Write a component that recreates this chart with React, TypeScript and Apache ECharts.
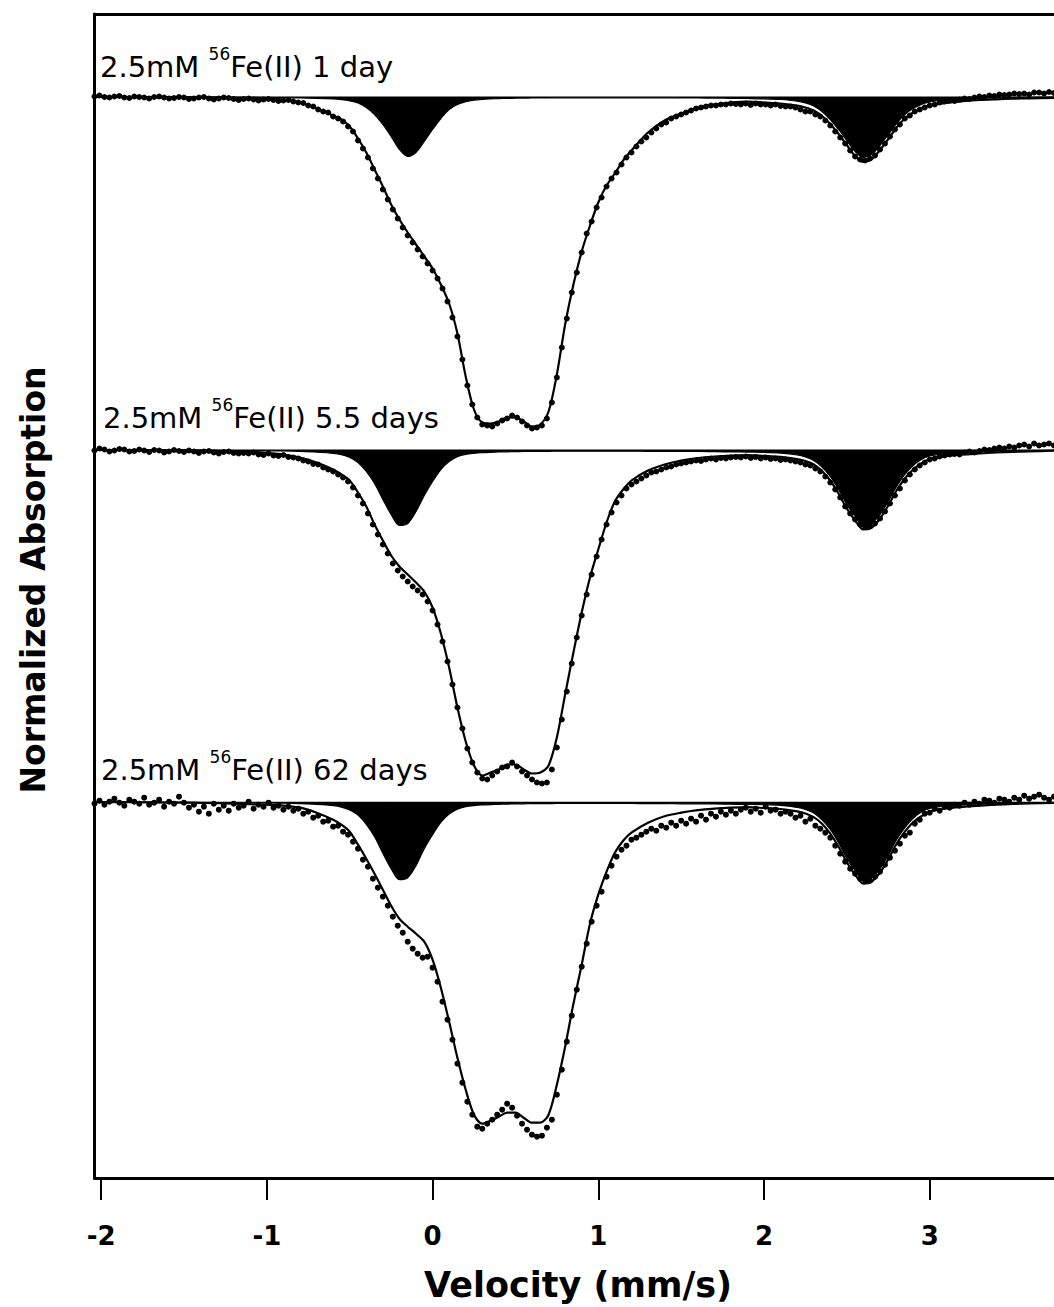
import React, { useEffect, useRef } from "react";
import * as echarts from "echarts";

// x axis ticks (mm/s)
const velocityTicks = [-2, -1, 0, 1, 2, 3];
const panelTimes = ["1 day", "5.5 days", "62 days"];
// vertical offset of each spectrum (absorption units, 1 unit ~ 1px)
const panelOffsets = [0, 353, 705.2];

// velocities at which the fitted curves were read
const fitVelocity = [
  -2.05, -1.9, -1.7, -1.5, -1.3, -1.1, -1.0, -0.9, -0.8, -0.7,
  -0.6, -0.55, -0.5, -0.45, -0.4, -0.35, -0.3, -0.25, -0.2, -0.15,
  -0.1, -0.05, 0, 0.05, 0.1, 0.15, 0.2, 0.25, 0.3, 0.35,
  0.4, 0.45, 0.5, 0.55, 0.6, 0.65, 0.7, 0.75, 0.8, 0.85,
  0.9, 0.95, 1.0, 1.05, 1.1, 1.15, 1.2, 1.3, 1.4, 1.5,
  1.6, 1.7, 1.8, 1.9, 2.0, 2.1, 2.2, 2.25, 2.3, 2.35,
  2.4, 2.45, 2.5, 2.55, 2.6, 2.65, 2.7, 2.75, 2.8, 2.85,
  2.9, 2.95, 3.0, 3.1, 3.2, 3.3, 3.4, 3.5, 3.6, 3.75,
];

// total fit, 1 day
const fitTotal1 = [
  0.5, 0.5, 0.7, 0.8, 1.1, 1.6, 2, 3, 6, 12,
  19, 23, 30, 42, 56, 73, 90, 108, 123, 136,
  148, 160, 172, 188, 207, 237, 280, 313, 326, 327,
  325, 321, 321, 325, 330, 328, 315, 278, 228, 188,
  155, 129, 106, 89, 77, 64, 54, 36, 24, 17,
  11, 8, 6, 5, 6, 7, 9, 11, 14, 19.5,
  27.5, 37.5, 48.5, 59.5, 65.5, 62.5, 53.5, 42.5, 31, 22,
  16, 11.5, 9, 6.3, 4.7, 3.5, 2.8, 2.2, 1.8, 1.3,
];
// Fe(II) component, 1 day
const fitComp1 = [
  0.4, 0.4, 0.4, 0.5, 0.6, 0.9, 1.0, 1.2, 1.4, 1.8,
  2.5, 3.2, 4.3, 6.5, 11, 18, 28, 40, 53, 60,
  56, 45, 33, 22, 13, 8, 5.2, 3.6, 2.8, 2.4,
  2.1, 1.9, 1.7, 1.6, 1.5, 1.45, 1.4, 1.35, 1.3, 1.3,
  1.3, 1.3, 1.3, 1.3, 1.3, 1.3, 1.3, 1.3, 1.3, 1.4,
  1.5, 1.6, 1.8, 2.0, 2.3, 3.0, 4.6, 6.5, 9.5, 15,
  23, 33, 44, 55, 61, 58, 49, 38, 27, 18,
  12, 8, 5.5, 3, 2.2, 1.7, 1.3, 1.0, 0.8, 0.6,
];

// total fit, 5.5 days
const fitTotal2 = [
  0.5, 0.5, 0.7, 1, 1.5, 2.5, 3.5, 5, 8, 13,
  20, 25, 31, 43, 57, 75, 91, 106, 117, 125,
  133, 142, 158, 184, 218, 258, 292, 316, 326, 323,
  320, 315, 315, 320, 324, 323, 316, 288, 245, 203,
  163, 128, 100, 73, 52, 40, 31, 21, 15, 11,
  8.5, 7, 6, 5.5, 6.3, 7.3, 9.5, 11.5, 15, 21.5,
  31, 44, 59, 71, 80, 78, 69, 56, 41, 29,
  20, 14, 9.5, 6.5, 5, 4, 3, 2.3, 1.8, 1.2,
];
const fitComp2 = [
  0.5, 0.5, 0.6, 0.7, 0.9, 1.1, 1.3, 1.5, 1.9, 2.6,
  3.8, 5.2, 8, 13, 22, 34, 50, 65, 76, 74,
  62, 46, 32, 20, 12, 7.2, 4.8, 3.8, 3.2, 2.8,
  2.5, 2.3, 2.1, 2.0, 1.9, 1.8, 1.8, 1.7, 1.7, 1.7,
  1.7, 1.7, 1.7, 1.7, 1.7, 1.7, 1.7, 1.8, 1.9, 2.0,
  2.0, 2.2, 2.4, 2.6, 2.8, 3.6, 5.5, 7.5, 11, 17.5,
  27, 40, 55, 67, 76, 74, 65, 52, 37, 25,
  16, 10, 6.5, 3.8, 2.6, 2.0, 1.7, 1.4, 1.2, 1.0,
];

// total fit, 62 days
const fitTotal3 = [
  0.5, 0.5, 0.7, 1, 1.5, 2.5, 3, 4, 6, 11,
  18, 23, 30, 43, 57, 72, 88, 104, 117, 125,
  132, 140, 158, 186, 220, 256, 288, 313, 322, 319,
  315, 311, 311, 316, 321, 321, 313, 283, 245, 202,
  163, 122, 93, 70, 51, 39, 31, 21, 14.5, 11,
  8.5, 7, 6, 5.5, 6.3, 7.3, 9.7, 11.8, 15.4, 22,
  32, 45, 60.5, 73, 82, 80, 71, 57.5, 42, 30,
  20.5, 14.5, 9.8, 6.6, 5.1, 4, 3, 2.3, 1.8, 1.2,
];
const fitComp3 = [
  0.5, 0.5, 0.6, 0.7, 0.9, 1.1, 1.3, 1.5, 2.0, 2.7,
  3.9, 5.4, 8.2, 13.4, 22.7, 35, 51.5, 67, 78, 76,
  64, 47, 33, 20.6, 12.4, 7.4, 5, 3.9, 3.3, 2.9,
  2.6, 2.4, 2.2, 2.1, 2.0, 1.9, 1.9, 1.8, 1.8, 1.8,
  1.8, 1.8, 1.8, 1.8, 1.8, 1.8, 1.8, 1.9, 2.0, 2.1,
  2.1, 2.3, 2.5, 2.7, 2.9, 3.7, 5.7, 7.7, 11.3, 18,
  27.8, 41, 56.7, 69, 78, 76, 67, 53.6, 38, 26,
  16.5, 10.3, 6.7, 3.9, 2.7, 2.1, 1.8, 1.4, 1.2, 1.0,
];

// measured spectra: channel velocity = start + i * step
const dataStartVelocity = -2.04;
const dataStepVelocity = 0.03;

const data1 = [
  0, -1, 0.5, 1, 0, -0.5, 1, 1.5, 0, 0.5,
  1, 2, 0.5, 0, 1, 2, 1.5, 0.5, 1, 2.5,
  2, 1, 0.5, 2, 3, 2, 1, 1.5, 2.5, 3.5,
  2.5, 2, 3, 4, 3, 2.5, 3.5, 4.5, 4, 3.5,
  5, 6, 6.5, 9, 10, 13, 15, 16, 20, 22,
  25, 30, 35, 44, 52, 61, 72, 82, 93, 103,
  113, 122, 131, 139, 146, 153, 160, 167, 174, 182,
  192, 205, 221, 240, 263, 289, 308, 321, 328, 329,
  330, 327, 324, 322, 319, 321, 325, 329, 332, 331,
  329, 322, 306, 281, 251, 222, 196, 176, 156, 137,
  125, 111, 101, 90, 82, 76, 68, 61, 56, 50,
  45, 41, 36, 32, 28, 26, 22, 20, 18, 16,
  14, 12, 11, 10, 9, 9, 8, 8, 7, 7.5,
  8, 7, 8.5, 7, 8, 8, 9, 8, 9.5, 10,
  10, 11, 13, 15, 15, 18, 20, 24, 29, 35,
  41, 47, 54, 60, 63, 64, 62, 59, 53, 47,
  40, 33, 28, 22, 19, 15, 13, 11, 9, 8,
  6, 5, 4, 4.5, 3, 2, 2.5, 1, 0, 0.5,
  -1, -0.5, -2, -1.5, -2, -3, -2.5, -3, -2, -4,
  -4, -3, -4.5, -3.5,
];

const data2 = [
  1, -1, 0, 2, 1, -0.5, 0, 2, 1.5, 0,
  1, 2.5, 0.5, 1, 3, 2, 0.5, 1.5, 2.5, 1,
  2, 3.5, 2, 1.5, 3, 4, 2.5, 2, 3.5, 4,
  3.5, 4, 3, 5, 5.5, 4, 6, 6.5, 5.5, 7.5,
  8, 9, 11, 12, 14.5, 15, 18, 20, 22, 25,
  28, 32, 38, 46, 54, 64, 75, 85, 95, 104,
  114, 121, 127, 132, 137, 141, 145, 152, 161, 175,
  192, 212, 235, 258, 279, 299, 313, 323, 329, 330,
  326, 322, 318, 317, 313, 317, 322, 326, 330, 333,
  334, 333, 320, 298, 270, 242, 214, 188, 166, 145,
  125, 107, 90, 75, 63, 53, 46, 39, 35, 32,
  29, 26, 23, 22, 20, 18, 17, 15, 14, 13,
  12, 11, 11.5, 10, 9, 10, 8.5, 9, 8, 7.5,
  8, 7, 8.5, 7.5, 9, 8, 9.5, 9, 10.5, 10,
  11, 12, 13, 15, 16, 19, 22, 27, 33, 40,
  48, 57, 64, 70, 75, 77, 77, 74, 69, 62,
  54, 46, 39, 31, 25, 20, 16, 13, 10, 9,
  7, 6, 5, 4.5, 5, 3, 2, 3, 1.5, 0,
  0.5, -1, -2, -1, -3, -2, -4, -5, -3, -6,
  -4, -5, -6, -4,
];

const data3 = [
  2, -1, 3, 0, -3, 1, 4, -2, 0, 2,
  -4, 3, 1, -2, 5, 0, 2, -5, 1, 6,
  3, 10, 5, 12, 2, 8, 4, 9, 2, 6,
  4, 0, 7, 3, 5, 1, 6, 4, 8, 5,
  9, 7, 12, 10, 16, 14, 20, 19, 25, 24,
  30, 33, 40, 47, 58, 65, 77, 86, 95, 104,
  115, 124, 131, 140, 147, 152, 156, 155, 166, 180,
  200, 218, 238, 262, 281, 300, 313, 325, 327, 322,
  318, 313, 308, 302, 306, 314, 322, 328, 333, 335,
  334, 326, 318, 293, 268, 240, 214, 188, 165, 142,
  120, 104, 90, 75, 64, 55, 48, 44, 38, 36,
  33, 30, 27, 29, 24, 26, 21, 24, 19, 22,
  17, 20, 14, 18, 12, 15, 10, 13, 9, 12,
  8, 6, 10, 7, 11, 5, 9, 8, 12, 10,
  12, 16, 14, 20, 17, 24, 27, 31, 36, 44,
  52, 60, 67, 72, 77, 79, 79, 75, 70, 63,
  56, 49, 42, 34, 31, 22, 18, 12, 11, 7,
  9, 5, 6, 3, 4, 1, 3, 0, 2, -2,
  -1, 1, -3, -2, 0, -4, -2, -6, -3, -5,
  -7, -4, -2, -5,
];

const FONT = "'DejaVu Sans', Verdana, sans-serif";

export default function App() {
  const ref = useRef<HTMLDivElement>(null);

  useEffect(() => {
    if (!ref.current) return;
    const chart = echarts.init(ref.current, null, { renderer: "svg" });

    const panels = [
      { total: fitTotal1, comp: fitComp1, data: data1 },
      { total: fitTotal2, comp: fitComp2, data: data2 },
      { total: fitTotal3, comp: fitComp3, data: data3 },
    ];

    const series: any[] = [];
    panels.forEach((p, k) => {
      const off = panelOffsets[k];
      series.push({
        type: "line",
        name: "component" + k,
        data: fitVelocity.map((v, i) => [v, off + p.comp[i]]),
        smooth: 0.3,
        symbol: "none",
        silent: true,
        lineStyle: { color: "#000", width: 1.2 },
        areaStyle: { color: "#000", opacity: 1, origin: off },
        z: 2,
      });
      series.push({
        type: "line",
        name: "fit" + k,
        data: fitVelocity.map((v, i) => [v, off + p.total[i]]),
        smooth: 0.3,
        symbol: "none",
        silent: true,
        lineStyle: { color: "#000", width: 2.2 },
        z: 3,
      });
      series.push({
        type: "scatter",
        name: "data" + k,
        data: p.data.map((d, i) => [dataStartVelocity + i * dataStepVelocity, off + d]),
        symbol: "circle",
        symbolSize: 6,
        silent: true,
        itemStyle: { color: "#000", opacity: 1 },
        z: 4,
      });
    });

    const labelBaselines = [76, 427.7, 779.5];
    const labelLefts = [100, 103, 101];
    const graphics: any[] = panelTimes.map((t, k) => ({
      type: "text",
      x: labelLefts[k],
      y: labelBaselines[k] - 31,
      silent: true,
      style: {
        text: "{a|2.5mM }{s|56}{a|Fe(II) " + t + "}",
        align: "left",
        textAlign: "left",
        verticalAlign: "top",
        textVerticalAlign: "top",
        fill: "#000",
        rich: {
          a: { fontFamily: FONT, fontSize: 29, lineHeight: 36, verticalAlign: "bottom", fill: "#000" },
          s: { fontFamily: FONT, fontSize: 17, verticalAlign: "top", fill: "#000" },
        },
      },
    }));
    graphics.push({
      type: "text",
      x: 578,
      y: 1285,
      silent: true,
      style: {
        text: "Velocity (mm/s)",
        font: "bold 35px " + FONT,
        align: "center",
        textAlign: "center",
        verticalAlign: "middle",
        textVerticalAlign: "middle",
        fill: "#000",
      },
    });
    graphics.push({
      type: "text",
      x: 33,
      y: 580,
      rotation: Math.PI / 2,
      silent: true,
      style: {
        text: "Normalized Absorption",
        font: "bold 33px " + FONT,
        align: "center",
        textAlign: "center",
        verticalAlign: "middle",
        textVerticalAlign: "middle",
        fill: "#000",
      },
    });

    const xMin = -2.04;
    const xMax = 3.75;

    chart.setOption({
      animation: false,
      backgroundColor: "#fff",
      grid: { left: 94.5, top: 14, right: 0, height: 1164, containLabel: false },
      xAxis: [
        {
          type: "value",
          min: xMin,
          max: xMax,
          position: "bottom",
          axisLine: { show: true, onZero: false, lineStyle: { color: "#000", width: 3 } },
          axisTick: { show: true, inside: false, length: 22, lineStyle: { color: "#000", width: 2 }, customValues: velocityTicks },
          axisLabel: {
            show: true,
            customValues: velocityTicks,
            margin: 45,
            fontFamily: FONT,
            fontWeight: "bold",
            fontSize: 26,
            color: "#000",
            formatter: (v: number) => String(v),
          },
          splitLine: { show: false },
        },
        {
          type: "value",
          min: xMin,
          max: xMax,
          position: "top",
          axisLine: { show: true, onZero: false, lineStyle: { color: "#000", width: 3 } },
          axisTick: { show: false },
          axisLabel: { show: false },
          splitLine: { show: false },
        },
      ],
      yAxis: {
        type: "value",
        inverse: true,
        min: -82.5,
        max: 1081.5,
        position: "left",
        axisLine: { show: true, onZero: false, lineStyle: { color: "#000", width: 3 } },
        axisTick: { show: false },
        axisLabel: { show: false },
        splitLine: { show: false },
      },
      series,
      graphic: graphics,
    });

    return () => chart.dispose();
  }, []);

  return (
    <div
      ref={ref}
      style={{ position: "absolute", left: 0, top: 0, width: 1054, height: 1307, background: "#fff" }}
    />
  );
}
